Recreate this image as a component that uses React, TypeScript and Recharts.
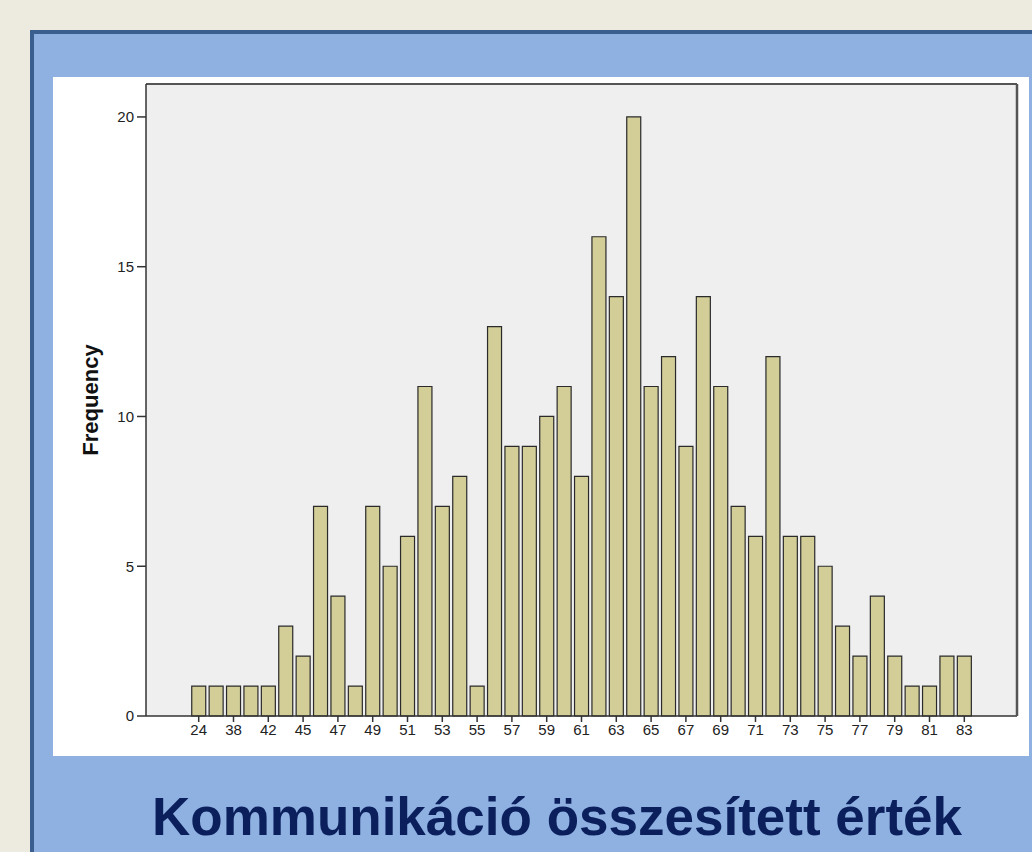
import React from 'react';
import { BarChart, Bar, XAxis, YAxis, CartesianGrid, Label } from 'recharts';

// score values (only every other one is labelled on the axis)
const scores = [
  '24', '36', '38', '40', '42', '44', '45', '46', '47', '48', '49', '50', '51', '52', '53',
  '54', '55', '56', '57', '58', '59', '60', '61', '62', '63', '64', '65', '66', '67', '68',
  '69', '70', '71', '72', '73', '74', '75', '76', '77', '78', '79', '80', '81', '82', '83',
];
const frequencies = [
  1, 1, 1, 1, 1, 3, 2, 7, 4, 1, 7, 5, 6, 11, 7,
  8, 1, 13, 9, 9, 10, 11, 8, 16, 14, 20, 11, 12, 9, 14,
  11, 7, 6, 12, 6, 6, 5, 3, 2, 4, 2, 1, 1, 2, 2,
];
const yTicks = [0, 5, 10, 15, 20];

const data = scores.map((s, i) => ({ score: s, freq: frequencies[i] }));

const FreqLabel = (props: any) => {
  const { viewBox } = props;
  const x = viewBox.x + 37;
  const y = viewBox.y + viewBox.height / 2;
  return (
    <text
      x={x}
      y={y}
      transform={`rotate(-90, ${x}, ${y})`}
      textAnchor="middle"
      dominantBaseline="central"
      fontFamily="'Liberation Sans', Arial, sans-serif"
      fontWeight="bold"
      fontSize={22}
      fill="#111"
    >
      Frequency
    </text>
  );
};

const tickStyle = { fontSize: 15, fill: '#222', fontFamily: "'Liberation Sans', Arial, sans-serif" };

export default function App() {
  return (
    <div style={{ position: 'absolute', left: 0, top: 0, width: 1032, height: 852, background: '#EDEAE0', overflow: 'hidden' }}>
      <div
        style={{
          position: 'absolute',
          left: 30,
          top: 30,
          width: 1010,
          height: 830,
          background: '#8EB1E2',
          borderTop: '4px solid #3A5E8E',
          borderLeft: '4px solid #3A5E8E',
          boxSizing: 'border-box',
        }}
      />
      <div style={{ position: 'absolute', left: 53, top: 77, width: 976, height: 679, background: '#FFFFFF' }}>
        <BarChart
          width={976}
          height={679}
          data={data}
          margin={{ top: 6, right: 11, left: 0, bottom: 0 }}
          barCategoryGap="10%"
        >
          <CartesianGrid horizontal={false} vertical={false} fill="#EFEFEF" />
          <XAxis
            dataKey="score"
            interval={1}
            height={40}
            padding={{ left: 44, right: 44 }}
            tick={tickStyle}
            tickSize={6}
            tickMargin={2}
            axisLine={{ stroke: '#333', strokeWidth: 1.5 }}
            tickLine={{ stroke: '#333', strokeWidth: 1.5 }}
          />
          <XAxis
            xAxisId="top"
            orientation="top"
            dataKey="score"
            height={1}
            tick={false}
            tickLine={false}
            axisLine={{ stroke: '#555', strokeWidth: 2 }}
          />
          <YAxis
            domain={[0, 21.1]}
            ticks={yTicks}
            width={93}
            tick={tickStyle}
            tickSize={9}
            tickMargin={3}
            axisLine={{ stroke: '#333', strokeWidth: 1.5 }}
            tickLine={{ stroke: '#333', strokeWidth: 1.5 }}
          >
            <Label content={FreqLabel} />
          </YAxis>
          <YAxis
            yAxisId="right"
            orientation="right"
            domain={[0, 21.1]}
            width={1}
            tick={false}
            tickLine={false}
            axisLine={{ stroke: '#555', strokeWidth: 2.5 }}
          />
          <Bar dataKey="freq" fill="#D3CE98" stroke="#2A2A2A" strokeWidth={1.2} isAnimationActive={false} />
        </BarChart>
      </div>
      <div
        style={{
          position: 'absolute',
          left: 57,
          top: 790,
          width: 1000,
          textAlign: 'center',
          fontFamily: "'Liberation Sans', Arial, sans-serif",
          fontWeight: 'bold',
          fontSize: 53,
          lineHeight: '53px',
          color: '#0B1F5C',
          whiteSpace: 'nowrap',
        }}
      >
        Kommunikáció összesített érték
      </div>
    </div>
  );
}
